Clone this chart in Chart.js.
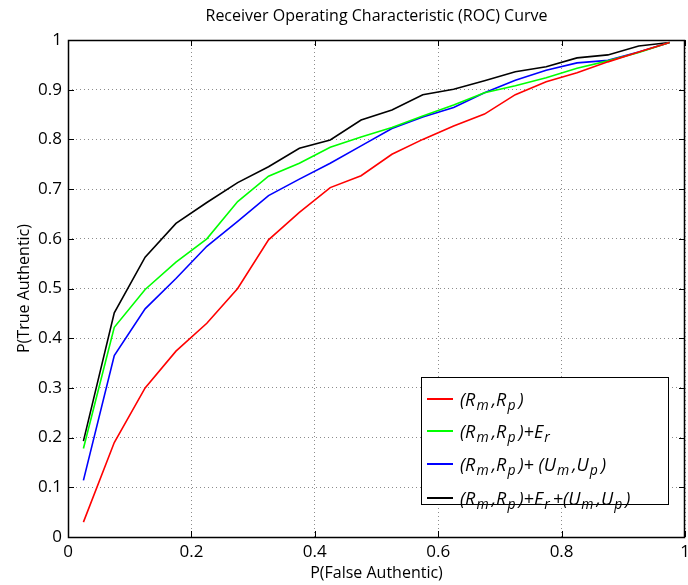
<!DOCTYPE html>
<html>
<head>
<meta charset="utf-8">
<script src="https://cdn.jsdelivr.net/npm/chart.js@4.4.0/dist/chart.umd.min.js"></script>
<style>
  html, body { margin: 0; padding: 0; background: #fff; }
  #wrap { position: relative; width: 688px; height: 585px; }
  #legend { position: absolute; left: 421px; top: 377px; width: 246px; height: 126px;
    border: 1px solid #000; background: #fff; font-family: "Open Sans", "DejaVu Sans", sans-serif;
    font-size: 18px; font-style: italic; color: #000; }
  .row { position: absolute; left: 0; height: 24px; display: flex; align-items: center; white-space: nowrap; }
  .sw { width: 26px; height: 0; border-top: 2px solid; margin-left: 5px; margin-right: 7px; }
  sub { font-size: 14px; vertical-align: -4px; line-height: 0; margin-left: 1px; margin-right: 3px; }
</style>
</head>
<body>
<div id="wrap">
<canvas id="c" width="688" height="585"></canvas>
<div id="legend"></div>
</div>
<script>
const xValues = [0.025,0.075,0.125,0.175,0.225,0.275,0.325,0.375,0.425,0.475,0.525,0.575,0.625,0.675,0.725,0.775,0.825,0.875,0.925,0.975];
const rmrp = [0.03,0.19,0.30,0.374,0.43,0.50,0.598,0.653,0.703,0.727,0.77,0.80,0.827,0.851,0.89,0.916,0.934,0.956,0.976,0.995];
const rmrpEr = [0.178,0.422,0.498,0.553,0.600,0.675,0.726,0.752,0.784,0.805,0.824,0.847,0.869,0.894,0.908,0.924,0.943,0.958,0.975,0.995];
const rmrpUmUp = [0.114,0.365,0.459,0.52,0.585,0.635,0.687,0.72,0.752,0.787,0.822,0.845,0.864,0.894,0.919,0.939,0.954,0.959,0.976,0.995];
const rmrpErUmUp = [0.193,0.451,0.563,0.631,0.673,0.713,0.745,0.782,0.799,0.839,0.859,0.890,0.901,0.918,0.936,0.946,0.964,0.970,0.988,0.995];
const xTicks = [0,0.2,0.4,0.6,0.8,1];
const yTicks = [0,0.1,0.2,0.3,0.4,0.5,0.6,0.7,0.8,0.9,1];
const seriesNames = ['(R<sub>m</sub>,R<sub>p</sub>)', '(R<sub>m</sub>,R<sub>p</sub>)+E<sub>r</sub>',
  '(R<sub>m</sub>,R<sub>p</sub>)+ (U<sub>m</sub>,U<sub>p</sub>)', '(R<sub>m</sub>,R<sub>p</sub>)+E<sub>r</sub>+(U<sub>m</sub>,U<sub>p</sub>)'];
const seriesColors = ['#ff0000', '#00ff00', '#0000ff', '#000000'];
const seriesData = [rmrp, rmrpEr, rmrpUmUp, rmrpErUmUp];

const FONT = '"Open Sans", "DejaVu Sans", sans-serif';

const tickMarks = {
  id: 'tickMarks',
  afterDatasetsDraw(chart) {
    const ctx = chart.ctx, a = chart.chartArea;
    const xs = chart.scales.x, ys = chart.scales.y;
    ctx.save();
    ctx.setLineDash([]);
    ctx.strokeStyle = '#000'; ctx.lineWidth = 1;
    ctx.beginPath();
    xTicks.forEach(v => { const p = Math.round(xs.getPixelForValue(v)) + 0.5;
      ctx.moveTo(p, a.bottom); ctx.lineTo(p, a.bottom - 6);
      ctx.moveTo(p, a.top); ctx.lineTo(p, a.top + 6); });
    yTicks.forEach(v => { const p = Math.round(ys.getPixelForValue(v)) + 0.5;
      ctx.moveTo(a.left, p); ctx.lineTo(a.left + 6, p);
      ctx.moveTo(a.right, p); ctx.lineTo(a.right - 6, p); });
    ctx.stroke();
    ctx.lineWidth = 1.5;
    ctx.strokeRect(a.left + 0.5, a.top + 0.5, a.right - a.left - 1, a.bottom - a.top);
    ctx.restore();
  }
};

const gridOpts = { color: '#8c8c8c', lineWidth: 1, drawTicks: false, tickLength: 0 };
const borderOpts = { display: false, dash: [1, 3] };

new Chart(document.getElementById('c'), {
  type: 'line',
  data: {
    datasets: seriesData.map((d, i) => ({
      label: seriesNames[i].replace(/<\/?sub>/g, ''),
      data: d.map((y, j) => ({ x: xValues[j], y })),
      borderColor: seriesColors[i],
      borderWidth: 1.6,
      pointRadius: 0,
      tension: 0,
      fill: false
    }))
  },
  options: {
    responsive: false,
    animation: false,
    layout: { padding: { left: 0, right: 3, top: 0, bottom: 0 } },
    plugins: {
      legend: { display: false },
      tooltip: { enabled: false },
      title: { display: false }
    },
    scales: {
      x: {
        type: 'linear', min: 0, max: 1,
        afterBuildTicks: s => { s.ticks = xTicks.map(v => ({ value: v })); },
        afterFit: s => { s.height = 48; s.paddingLeft = 0; s.paddingRight = 0; },
        ticks: { color: '#000', font: { family: FONT, size: 17 }, padding: 5, maxRotation: 0,
          callback: v => String(v) },
        grid: gridOpts,
        border: borderOpts,
        title: { display: true, text: 'P(False Authentic)', color: '#000',
          font: { family: FONT, size: 16 }, padding: { top: 0, bottom: 2 } }
      },
      xTop: {
        type: 'linear', position: 'top', min: 0, max: 1,
        afterFit: s => { s.height = 40; s.paddingLeft = 0; s.paddingRight = 0; },
        ticks: { display: false },
        grid: { display: false, drawTicks: false },
        border: { display: false },
        title: { display: true, text: 'Receiver Operating Characteristic (ROC) Curve', color: '#000',
          font: { family: FONT, size: 16 }, padding: { top: 7, bottom: 0 } }
      },
      y: {
        type: 'linear', min: 0, max: 1,
        afterBuildTicks: s => { s.ticks = yTicks.map(v => ({ value: v })); },
        afterFit: s => { s.width = 68; s.paddingTop = 0; s.paddingBottom = 0; },
        ticks: { color: '#000', font: { family: FONT, size: 17 }, padding: 6,
          callback: v => String(Math.round(v * 10) / 10) },
        grid: gridOpts,
        border: borderOpts,
        title: { display: true, text: 'P(True Authentic)', color: '#000',
          font: { family: FONT, size: 16 }, padding: { top: 15, bottom: 0 } }
      }
    }
  },
  plugins: [tickMarks]
});

const lg = document.getElementById('legend');
const rowTops = [9, 41, 74, 108];
seriesNames.forEach((n, i) => {
  const r = document.createElement('div');
  r.className = 'row';
  r.style.top = rowTops[i] + 'px';
  r.innerHTML = '<span class="sw" style="border-color:' + seriesColors[i] + '"></span><span>' + n + '</span>';
  lg.appendChild(r);
});
</script>
</body>
</html>
